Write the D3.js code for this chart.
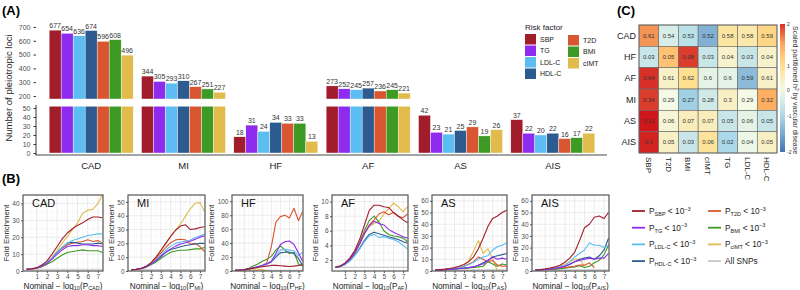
<!DOCTYPE html>
<html><head><meta charset="utf-8">
<script src="https://cdn.jsdelivr.net/npm/d3@7"></script>
<style>body{margin:0;background:#fff} svg{font-family:Arial,"Liberation Sans",sans-serif}</style>
</head><body><svg id="c" width="800" height="290"></svg>
<script>
// ---------------- DATA ----------------
const riskFactors = ["SBP","TG","LDL-C","HDL-C","T2D","BMI","cIMT"];
const diseases = ["CAD","MI","HF","AF","AS","AIS"];
// Panel A: number of pleiotropic loci per disease
const lociSBP  = [677,344,18,273,42,37];
const lociTG   = [654,305,31,252,23,22];
const lociLDL  = [636,293,24,245,21,20];
const lociHDL  = [674,310,34,257,25,22];
const lociT2D  = [596,267,33,236,29,16];
const lociBMI  = [608,251,33,245,19,17];
const lociCIMT = [496,227,13,221,26,22];
const upperTicks = [200,300,400,500,600,700];
const lowerTicks = [0,10,20,30,40,50];

// Panel B: fold enrichment
const enrichX = [0,0.5,1,1.5,2,2.5,3,3.5,4,4.5,5,5.5,6,6.5,7,7.45];
const allSNPs = [1,1,1,1,1,1,1,1,1,1,1,1,1,1,1,1];
const enrichCAD = {
  "SBP":  [1,1.3,2,3.5,6,10,14.5,19,22.5,25,27,28.5,30.5,32,32,31.5],
  "TG":   [1,1.2,1.8,3,4.5,7,10,12.5,14.5,15,15,15.5,15.5,15,15,14.5],
  "LDL-C":[1,1.2,1.8,3,5,7.5,11,14,16.5,18,19,20,21,21.5,22,22],
  "HDL-C":[1,1.2,1.8,3,4.8,7.5,11,14,16.5,17,16.5,16,16,16,16.5,16],
  "T2D":  [1,1.2,1.8,3,4.8,7.5,11,13.5,15.5,16.5,17,17.5,18.5,17.5,18,16.5],
  "BMI":  [1,1.2,1.6,2.5,4,5.5,7.5,9.5,11,11.5,12,12.5,12,12,12,11],
  "cIMT": [1,1.1,1.5,2.5,4.5,8,12,16.5,20.5,24.5,28.5,34,36,36.5,40,45]
};
const enrichMI = {
  "SBP":  [1,1.3,2,3.5,6,10,15,20,25,29.5,32.5,33.5,30,30.5,31.5,32],
  "TG":   [1,1.2,1.8,3,5,7.5,10.5,13.5,16,18,19.5,20.5,21.5,23,24.5,25.5],
  "LDL-C":[1,1.2,1.8,3,5,8,11.5,15,18,20,21,21.5,22.5,24,25.5,26.5],
  "HDL-C":[1,1.2,1.8,3,5,7.5,10.5,13.5,15.5,16.5,17.5,18.5,19,19.5,20,20],
  "T2D":  [1,1.2,1.8,3,5.5,9,13,17,20.5,22.5,23,22.5,19.5,20,17.5,14],
  "BMI":  [1,1.2,1.7,2.8,4.5,6.5,9,11.5,13.5,14.5,15,15,15.5,16,16,17],
  "cIMT": [1,1.2,1.8,3,5.5,9.5,14.5,20,25.5,29.5,34,39.5,45,49,49.5,43]
};
const enrichHF = {
  "SBP":  [1,1.2,1.8,3,4,5,6,7,8,8,7.5,7,6.5,7,8,9],
  "TG":   [1,1.2,1.8,3,4.5,6,8,10,14,25,38,42,43,38,26,14],
  "LDL-C":[1,1.2,1.8,3,4.5,6,8,10,14,22,30,31,30,29,22,27],
  "HDL-C":[1,1.2,1.8,3,4.5,6,8,10,13,20,26,27,27,25,18,8],
  "T2D":  [1,1.2,1.8,3,4.5,6,7.5,12,35,70,78,80,76,90,72,85],
  "BMI":  [1,1.2,2,4,7,10,14,17,21,30,36,30,25,27,10,7],
  "cIMT": [1,1,1.5,2,3,2.5,2,0.5,null,null,null,null,null,null,null,null]
};
const enrichAF = {
  "SBP":  [1,1.2,1.6,2.3,3.3,4.8,6.8,8.8,9.5,9.5,9.3,9.2,8.5,8,7.5,7.1],
  "TG":   [1,1.15,1.5,2.1,3,4.2,5.6,6.7,7.3,7,6.8,6.2,5.8,5.5,5.2,5],
  "LDL-C":[1,1.1,1.4,1.9,2.6,3.5,4.5,5.3,5.5,5.1,5.2,5,4.8,4.5,4,3.5],
  "HDL-C":[1,1.1,1.4,1.9,2.7,3.6,4.7,5.5,5.8,5.6,5.4,5.2,5,4.8,4.5,4.3],
  "T2D":  [1,1.15,1.5,2.1,3,4.2,5.7,6.8,7.5,8.3,8.6,8.2,8.5,8,7.8,8.3],
  "BMI":  [1,1.15,1.5,2.1,3.1,4.4,6,7.4,8,7.2,6,5.5,5.3,5.2,5,4.5],
  "cIMT": [1,1.15,1.5,2.1,3,4.2,5.6,6.6,7,7.3,8.3,9,9.8,9.3,8.6,9.3]
};
const enrichAS = {
  "SBP":  [1,1.2,1.6,2.2,3,4,5.5,8,12,19,28,38,45,47,50,52],
  "TG":   [1,1,1.2,1.5,1.8,2.2,2.5,3,3.5,5,6,9,12,10,11,10],
  "LDL-C":[1,1.1,1.3,1.7,2.3,3,4,5.5,7.5,10,12,13,18,21,22,24],
  "HDL-C":[1,1,1.2,1.5,1.8,2.2,2.6,3,3.5,5,7,9,12,13,14,15],
  "T2D":  [1,1.1,1.3,1.7,2.3,3,4,6,8,12,10,8,9,5,4,4],
  "BMI":  [1,1,1.2,1.4,1.7,2,2.3,2.5,3,3.5,4,8,6,4,6,5],
  "cIMT": [1,1.1,1.4,2,3,4,5.5,9,17,26,15,19,10,0,null,null]
};
const enrichAIS = {
  "SBP":  [1,1.3,1.8,2.5,3.5,5,7.5,11,16,26,37,40,46,47,45,50],
  "TG":   [1,1.1,1.3,1.7,2.2,3,4,5.5,8,9,10,11,10,11,11,15],
  "LDL-C":[1,1.1,1.4,1.9,2.6,3.6,5,8,12,15,18,24,22,22,20,22],
  "HDL-C":[1,1.1,1.3,1.7,2.2,3,4,6,8,10,11,12,10,13,18,28],
  "T2D":  [1,1.1,1.3,1.6,2,2.5,3,3.5,4,5,5,7,3,null,null,null],
  "BMI":  [1,1,1.2,1.4,1.6,2,2.4,3,3.5,4.5,3,4,7,9,14,22],
  "cIMT": [1,1.1,1.5,2.2,3,4,5.5,8,10,10,4,null,null,null,null,null]
};

// Panel C: partitioned h2
const heatRows = ["CAD","HF","AF","MI","AS","AIS"];
const heatCols = ["SBP","T2D","BMI","cIMT","TG","LDL-C","HDL-C"];
const h2Values = [
  [0.61,0.54,0.53,0.52,0.58,0.58,0.59],
  [0.03,0.05,0.08,0.03,0.04,0.03,0.04],
  [0.64,0.61,0.62,0.6,0.6,0.59,0.61],
  [0.34,0.29,0.27,0.28,0.3,0.29,0.32],
  [0.11,0.06,0.07,0.07,0.05,0.06,0.05],
  [0.1,0.05,0.03,0.06,0.02,0.04,0.05]
];
const h2Scaled = [
  [1.6,-0.4,-0.8,-1.4,0.8,0.7,1.1],
  [-0.6,1.3,1.95,-0.6,0.3,-0.6,0.3],
  [2.0,0.35,1.0,-0.2,-0.2,-1.3,0.35],
  [1.95,0.0,-1.1,-0.5,0.4,0.0,1.5],
  [2.1,0.2,0.5,0.5,-0.6,-0.2,-0.6],
  [2.05,0.4,-0.6,0.9,-1.0,-0.1,0.4]
];
const colorbarTicks = [2,1,0,-1,-2];

// ---------------- STYLE ----------------
const rfColor = {"SBP":"#A11D2B","TG":"#8E2BEF","LDL-C":"#5BBDF2","HDL-C":"#2D5B8F",
                 "T2D":"#D95630","BMI":"#3D9A24","cIMT":"#E1BB4B"};
const svg = d3.select("#c");
const axisGrey = "#4D4D4D";

// ---------------- PANEL A ----------------
const lociBy = {"SBP":lociSBP,"TG":lociTG,"LDL-C":lociLDL,"HDL-C":lociHDL,"T2D":lociT2D,"BMI":lociBMI,"cIMT":lociCIMT};
const xA = d3.scaleBand().domain(diseases).range([45,599]).paddingInner(0.09).paddingOuter(0.045);
const xA1 = d3.scaleBand().domain(riskFactors).range([0,xA.bandwidth()]);
const breakLow = 52, breakUp = 178;
const yUp = d3.scaleLinear().domain([breakUp,720]).range([99,24.2]);
const yLo = d3.scaleLinear().domain([0,breakLow]).range([153,106.2]);
const gA = svg.append("g");
svg.append("text").attr("x",2).attr("y",15).attr("font-size",13).attr("font-weight","bold").text("(A)");

diseases.forEach((d,i)=>{
  riskFactors.forEach(rf=>{
    const v = lociBy[rf][i];
    const bx = xA(d)+xA1(rf), bw = xA1.bandwidth();
    const lowTop = yLo(Math.min(v,breakLow));
    gA.append("rect").attr("x",bx).attr("y",lowTop).attr("width",bw).attr("height",yLo(0)-lowTop)
      .attr("fill",rfColor[rf]).attr("stroke","#fff").attr("stroke-width",0.4);
    let ly = lowTop-2;
    if (v>breakLow){
      gA.append("rect").attr("x",bx).attr("y",yUp(v)).attr("width",bw).attr("height",yUp(breakUp)-yUp(v))
        .attr("fill",rfColor[rf]).attr("stroke","#fff").attr("stroke-width",0.4);
      ly = yUp(v)-2;
    }
    gA.append("text").attr("x",bx+bw/2).attr("y",ly).attr("text-anchor","middle")
      .attr("font-size",7).attr("fill","#333").text(v);
  });
});
const axUp = gA.append("g").attr("transform","translate(36,0)")
  .call(d3.axisLeft(yUp).tickValues(upperTicks).tickSize(2.5).tickSizeOuter(0));
axUp.select(".domain").remove();
const axLo = gA.append("g").attr("transform","translate(36,0)")
  .call(d3.axisLeft(yLo).tickValues(lowerTicks).tickSize(2.5).tickSizeOuter(0));
axLo.select(".domain").attr("d","M0,105V155").attr("stroke","#333");
[axUp,axLo].forEach(a=>{a.selectAll("text").attr("font-size",7).attr("fill",axisGrey).attr("font-family","Arial");
  a.selectAll(".tick line").attr("stroke","#333");});
gA.append("line").attr("x1",35.5).attr("x2",607).attr("y1",155).attr("y2",155).attr("stroke","#333").attr("stroke-width",0.9);
diseases.forEach(d=>{
  gA.append("text").attr("x",xA(d)+xA.bandwidth()/2).attr("y",169).attr("text-anchor","middle")
    .attr("font-size",9.5).attr("fill","#222").text(d);
});
gA.append("text").attr("transform","translate(12,88) rotate(-90)").attr("text-anchor","middle")
  .attr("font-size",9.5).attr("fill","#222").text("Number of pleiotropic loci");
// legend A
const legA = svg.append("g");
legA.append("text").attr("x",525).attr("y",30).attr("font-size",8).attr("fill","#222").text("Risk factor");
const legCols = [["SBP","TG","LDL-C","HDL-C"],["T2D","BMI","cIMT"]];
legCols.forEach((col,ci)=>{
  col.forEach((rf,ri)=>{
    const lx = ci===0?525:568, ly = 34+ri*11.5+ci*1;
    legA.append("rect").attr("x",lx).attr("y",ly).attr("width",11).attr("height",10.5).attr("fill",rfColor[rf]);
    legA.append("text").attr("x",lx+15).attr("y",ly+7.5).attr("font-size",7).attr("fill","#222").text(rf);
  });
});

// ---------------- PANEL B ----------------
svg.append("text").attr("x",2).attr("y",183).attr("font-size",13).attr("font-weight","bold").text("(B)");
const panelsB = [
  {name:"CAD", data:enrichCAD, x0:23,  x1:103, yDom:[0,45],     yTicks:[0,10,20,30,40]},
  {name:"MI",  data:enrichMI,  x0:128, x1:205, yDom:[0,55],     yTicks:[0,10,20,30,40,50]},
  {name:"HF",  data:enrichHF,  x0:232, x1:303, yDom:[0,109],    yTicks:[0,20,40,60,80,100]},
  {name:"AF",  data:enrichAF,  x0:332, x1:408, yDom:[0.5,10.9], yTicks:[2,4,6,8,10]},
  {name:"AS",  data:enrichAS,  x0:432, x1:507, yDom:[0,65],     yTicks:[0,10,20,30,40,50,60]},
  {name:"AIS", data:enrichAIS, x0:532, x1:609, yDom:[0,65],     yTicks:[0,10,20,30,40,50,60]}
];
const xTicksB = [1,2,3,4,5,6,7];
const fTop = 195, fBot = 271;
const drawOrder = ["cIMT","BMI","T2D","HDL-C","LDL-C","TG","SBP"];
panelsB.forEach((p,pi)=>{
  const x = d3.scaleLinear().domain([-0.35,7.5]).range([p.x0,p.x1]);
  const y = d3.scaleLinear().domain(p.yDom).range([fBot,fTop]);
  const g = svg.append("g");
  const cid = "clip"+pi;
  g.append("clipPath").attr("id",cid).append("rect").attr("x",p.x0).attr("y",fTop).attr("width",p.x1-p.x0).attr("height",fBot-fTop);
  // minor grid
  const xMinor = xTicksB.map(t=>t-0.5).concat([7.5]);
  const step = p.yTicks[1]-p.yTicks[0];
  const yMinor = p.yTicks.map(t=>t+step/2).concat([p.yTicks[0]-step/2]);
  const grid = g.append("g").attr("clip-path",`url(#${cid})`);
  xMinor.forEach(t=>grid.append("line").attr("x1",x(t)).attr("x2",x(t)).attr("y1",fTop).attr("y2",fBot).attr("stroke","#F2F2F2").attr("stroke-width",0.5));
  yMinor.forEach(t=>grid.append("line").attr("x1",p.x0).attr("x2",p.x1).attr("y1",y(t)).attr("y2",y(t)).attr("stroke","#F2F2F2").attr("stroke-width",0.5));
  xTicksB.forEach(t=>grid.append("line").attr("x1",x(t)).attr("x2",x(t)).attr("y1",fTop).attr("y2",fBot).attr("stroke","#E3E3E3").attr("stroke-width",0.7));
  p.yTicks.forEach(t=>grid.append("line").attr("x1",p.x0).attr("x2",p.x1).attr("y1",y(t)).attr("y2",y(t)).attr("stroke","#E3E3E3").attr("stroke-width",0.7));
  // lines
  const line = d3.line().defined(d=>d[1]!=null).x(d=>x(d[0])).y(d=>y(d[1]));
  const lg = g.append("g").attr("clip-path",`url(#${cid})`);
  lg.append("path").attr("d",line(enrichX.map((v,i)=>[v,allSNPs[i]]))).attr("fill","none").attr("stroke","#C8C8C8").attr("stroke-width",1.1);
  drawOrder.forEach(rf=>{
    lg.append("path").attr("d",line(enrichX.map((v,i)=>[v,p.data[rf][i]])))
      .attr("fill","none").attr("stroke",rfColor[rf]).attr("stroke-width",1.1).attr("stroke-linejoin","round");
  });
  g.append("rect").attr("x",p.x0).attr("y",fTop).attr("width",p.x1-p.x0).attr("height",fBot-fTop)
    .attr("fill","none").attr("stroke","#555").attr("stroke-width",1.2);
  // axes
  const ax = g.append("g").attr("transform",`translate(${p.x0},0)`).call(d3.axisLeft(y).tickValues(p.yTicks).tickSize(2).tickPadding(1.5));
  const bx = g.append("g").attr("transform",`translate(0,${fBot})`).call(d3.axisBottom(x).tickValues(xTicksB).tickSize(2).tickPadding(1.5));
  [ax,bx].forEach(a=>{a.select(".domain").remove();
    a.selectAll("text").attr("font-size",6.5).attr("fill",axisGrey).attr("font-family","Arial");
    a.selectAll(".tick line").attr("stroke","#555");});
  // title inside
  g.append("text").attr("x",p.x0+9).attr("y",fTop+12).attr("font-size",11).attr("fill","#111").text(p.name);
  // y title
  const tw = p.yTicks[p.yTicks.length-1]>=100 ? 18 : 14;
  g.append("text").attr("transform",`translate(${p.x0-tw},${(fTop+fBot)/2}) rotate(-90)`).attr("text-anchor","middle")
    .attr("font-size",7.8).attr("fill","#222").text("Fold Enrichment");
  // x title
  const xt = g.append("text").attr("x",(p.x0+p.x1)/2).attr("y",288.5).attr("text-anchor","middle").attr("font-size",8.2).attr("fill","#222");
  xt.append("tspan").text("Nominal − log");
  xt.append("tspan").attr("font-size",5.5).attr("dy",1.5).text("10");
  xt.append("tspan").attr("dy",-1.5).text("(P");
  xt.append("tspan").attr("font-size",5.5).attr("dy",1.5).text(p.name);
  xt.append("tspan").attr("dy",-1.5).text(")");
});
// legend B
const legB = svg.append("g");
const legBCols = [["SBP","TG","LDL-C","HDL-C"],["T2D","BMI","cIMT","All SNPs"]];
legBCols.forEach((col,ci)=>{
  col.forEach((rf,ri)=>{
    const lx = ci===0?632:708, ly = 211+ri*16.7;
    legB.append("line").attr("x1",lx).attr("x2",lx+13).attr("y1",ly).attr("y2",ly)
      .attr("stroke",rf==="All SNPs"?"#C8C8C8":rfColor[rf]).attr("stroke-width",1.8);
    const t = legB.append("text").attr("x",lx+17).attr("y",ly+3).attr("font-size",8.3).attr("fill","#222");
    if (rf==="All SNPs"){ t.text("All SNPs"); return; }
    t.append("tspan").text("P");
    t.append("tspan").attr("font-size",5.5).attr("dy",2).text(rf);
    t.append("tspan").attr("dy",-2).text(" < 10");
    t.append("tspan").attr("font-size",5.5).attr("dy",-3.5).text("−3");
  });
});

// ---------------- PANEL C ----------------
svg.append("text").attr("x",617).attr("y",15).attr("font-size",13).attr("font-weight","bold").text("(C)");
const hx = d3.scaleBand().domain(heatCols).range([639,777]);
const hy = d3.scaleBand().domain(heatRows).range([25,153]);
const heatColor = d3.scaleLinear().domain([-2,-1,0,1,1.5,2])
  .range(["#4575B4","#ABD9E9","#F4FAE6","#FEE090","#FDAE61","#D73027"]);
const gC = svg.append("g");
heatRows.forEach((r,ri)=>{
  heatCols.forEach((c,ci)=>{
    gC.append("rect").attr("x",hx(c)).attr("y",hy(r)).attr("width",hx.bandwidth()).attr("height",hy.bandwidth())
      .attr("fill",heatColor(h2Scaled[ri][ci])).attr("stroke","#666").attr("stroke-width",0.6);
    gC.append("text").attr("x",hx(c)+hx.bandwidth()/2).attr("y",hy(r)+hy.bandwidth()/2+2)
      .attr("text-anchor","middle").attr("font-size",6).attr("fill","#333").text(h2Values[ri][ci]);
  });
  gC.append("text").attr("x",636).attr("y",hy(r)+hy.bandwidth()/2+3).attr("text-anchor","end")
    .attr("font-size",9).attr("fill","#222").text(r);
});
gC.append("rect").attr("x",639).attr("y",25).attr("width",138).attr("height",128).attr("fill","none").attr("stroke","#666").attr("stroke-width",0.8);
heatCols.forEach(c=>{
  gC.append("text").attr("transform",`translate(${hx(c)+hx.bandwidth()/2},157) rotate(90)`)
    .attr("dy","0.35em").attr("font-size",8).attr("fill","#222").text(c);
});
// colorbar
const cbY = d3.scaleLinear().domain([-2,-1,0,1,2]).range([152,116,90,66,24]);
const defs = svg.append("defs");
const grad = defs.append("linearGradient").attr("id","cbg").attr("x1",0).attr("x2",0).attr("y1",0).attr("y2",1);
d3.range(0,21).forEach(k=>{
  const py = 24 + k*(152-24)/20;
  grad.append("stop").attr("offset",(k/20)).attr("stop-color",heatColor(cbY.invert(py)));
});
gC.append("rect").attr("x",780).attr("y",24).attr("width",5).attr("height",128).attr("fill","url(#cbg)");
colorbarTicks.forEach(t=>{
  gC.append("text").attr("x",787).attr("y",cbY(t)+2).attr("font-size",5).attr("fill","#333").text(t);
});
gC.append("text").attr("transform","translate(795,26) rotate(90)").attr("dy","0.35em")
  .attr("font-size",7).attr("fill","#333").html("Scaled partitioned h<tspan font-size='5' dy='-2.5'>2</tspan><tspan dy='2.5'> by vascular disease</tspan>");
</script></body></html>
